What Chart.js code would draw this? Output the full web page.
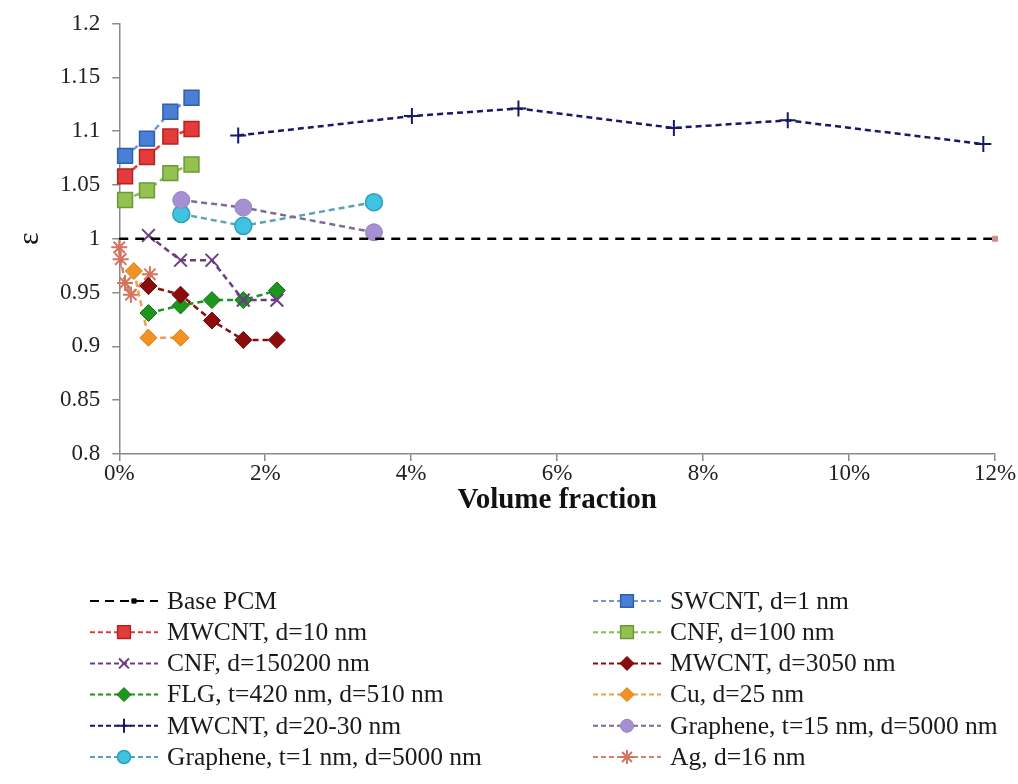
<!DOCTYPE html>
<html>
<head>
<meta charset="utf-8">
<script src="https://cdn.jsdelivr.net/npm/chart.js"></script>
<style>
  html, body { margin: 0; padding: 0; background: #ffffff; }
  #wrap { position: relative; width: 1018px; height: 784px; }
</style>
</head>
<body>
<div id="wrap"><canvas id="c"></canvas></div>
<script>
// ---- Tick labels ----
const xTickValues = [0, 2, 4, 6, 8, 10, 12];
const xTickLabels = ['0%', '2%', '4%', '6%', '8%', '10%', '12%'];
const yTickValues = [0.8, 0.85, 0.9, 0.95, 1.0, 1.05, 1.1, 1.15, 1.2];
const yTickLabels = ['0.8', '0.85', '0.9', '0.95', '1', '1.05', '1.1', '1.15', '1.2'];

// ---- Series names ----
const seriesNames = [
  'Base PCM', 'SWCNT, d=1 nm',
  'MWCNT, d=10 nm', 'CNF, d=100 nm',
  'CNF, d=150200 nm', 'MWCNT, d=3050 nm',
  'FLG, t=420 nm, d=510 nm', 'Cu, d=25 nm',
  'MWCNT, d=20-30 nm', 'Graphene, t=15 nm, d=5000 nm',
  'Graphene, t=1 nm, d=5000 nm', 'Ag, d=16 nm'
];

// ---- Series values (x in %, y = epsilon) ----
const baseX = [0, 12];
const baseY = [1.0, 1.0];
const swcntX = [0.08, 0.38, 0.70, 0.99];
const swcntY = [1.077, 1.093, 1.118, 1.131];
const mwcnt10X = [0.08, 0.38, 0.70, 0.99];
const mwcnt10Y = [1.058, 1.076, 1.095, 1.102];
const cnf100X = [0.08, 0.38, 0.70, 0.99];
const cnf100Y = [1.036, 1.045, 1.061, 1.069];
const cnf150X = [0.40, 0.84, 1.27, 1.70, 2.16];
const cnf150Y = [1.003, 0.980, 0.980, 0.943, 0.943];
const mwcnt3050X = [0.40, 0.84, 1.27, 1.70, 2.16];
const mwcnt3050Y = [0.956, 0.948, 0.924, 0.906, 0.906];
const flgX = [0.40, 0.84, 1.27, 1.70, 2.16];
const flgY = [0.931, 0.938, 0.943, 0.943, 0.952];
const cuX = [0.20, 0.40, 0.84];
const cuY = [0.970, 0.908, 0.908];
const mwcnt2030X = [1.63, 4.01, 5.47, 7.60, 9.16, 11.84];
const mwcnt2030Y = [1.096, 1.114, 1.121, 1.103, 1.110, 1.088];
const gr15X = [0.85, 1.70, 3.49];
const gr15Y = [1.036, 1.029, 1.006];
const gr1X = [0.85, 1.70, 3.49];
const gr1Y = [1.023, 1.012, 1.034];
const agX = [0.00, 0.02, 0.08, 0.16, 0.42];
const agY = [0.992, 0.981, 0.959, 0.948, 0.967];

const pts = (xs, ys) => xs.map((x, i) => ({ x: x, y: ys[i] }));

const DASH = [6, 4];
function series(label, xs, ys, lineColor, style, fill, border, radius, bw) {
  return {
    label: label,
    data: pts(xs, ys),
    borderColor: lineColor,
    borderWidth: 2.5,
    borderDash: DASH,
    pointStyle: style,
    pointRadius: radius,
    pointHoverRadius: radius,
    pointBackgroundColor: fill,
    pointBorderColor: border,
    pointBorderWidth: bw,
    tension: 0,
    fill: false,
    clip: false
  };
}

const datasets = [
  {
    label: seriesNames[0],
    data: pts(baseX, baseY),
    borderColor: '#000000',
    borderWidth: 2.5,
    borderDash: [9, 7],
    pointStyle: 'rect',
    pointRadius: [0, 3.5],
    pointBackgroundColor: '#c98f8f',
    pointBorderColor: '#c98f8f',
    pointBorderWidth: 1,
    fill: false,
    clip: false
  },
  series(seriesNames[1], swcntX, swcntY, '#6f98d6', 'rect', '#4a7fd6', '#2f5fae', 10.5, 1.5),
  series(seriesNames[2], mwcnt10X, mwcnt10Y, '#e23c3c', 'rect', '#e63b3b', '#b52222', 10.5, 1.5),
  series(seriesNames[3], cnf100X, cnf100Y, '#8cba4e', 'rect', '#93c152', '#6a9a32', 10.5, 1.5),
  series(seriesNames[4], cnf150X, cnf150Y, '#6b3c84', 'crossRot', '#6b3c84', '#6b3c84', 9, 2),
  series(seriesNames[5], mwcnt3050X, mwcnt3050Y, '#8a0c0c', 'rectRot', '#8a0c0c', '#6e0000', 8.5, 1),
  series(seriesNames[6], flgX, flgY, '#1c931c', 'rectRot', '#1c961c', '#137013', 8.5, 1),
  series(seriesNames[7], cuX, cuY, '#f0a050', 'rectRot', '#f39224', '#d87a10', 8.5, 1),
  series(seriesNames[8], mwcnt2030X, mwcnt2030Y, '#18186a', 'cross', '#18186a', '#18186a', 8, 2),
  series(seriesNames[9], gr15X, gr15Y, '#7c6c9c', 'circle', '#a68fd2', '#9683c4', 8.5, 1),
  series(seriesNames[10], gr1X, gr1Y, '#5aa2ba', 'circle', '#3fc3e0', '#2aa0c0', 8.5, 1.5),
  series(seriesNames[11], agX, agY, '#d4806a', 'star', '#d4735f', '#d4735f', 8, 2)
];

// ---- marker drawing for custom legend ----
function drawMarker(ctx, style, x, y, r, fill, stroke, bw) {
  ctx.save();
  ctx.setLineDash([]);
  ctx.fillStyle = fill;
  ctx.strokeStyle = stroke;
  ctx.lineWidth = bw;
  ctx.beginPath();
  if (style === 'rect') {
    const s = r * Math.SQRT1_2;
    ctx.rect(x - s, y - s, 2 * s, 2 * s);
    ctx.fill(); ctx.stroke();
  } else if (style === 'rectRot') {
    ctx.moveTo(x, y - r); ctx.lineTo(x + r, y); ctx.lineTo(x, y + r); ctx.lineTo(x - r, y); ctx.closePath();
    ctx.fill(); ctx.stroke();
  } else if (style === 'circle') {
    ctx.arc(x, y, r, 0, Math.PI * 2);
    ctx.fill(); ctx.stroke();
  } else if (style === 'cross') {
    ctx.moveTo(x, y - r); ctx.lineTo(x, y + r); ctx.moveTo(x - r, y); ctx.lineTo(x + r, y);
    ctx.stroke();
  } else if (style === 'crossRot') {
    const s = r * Math.SQRT1_2;
    ctx.moveTo(x - s, y - s); ctx.lineTo(x + s, y + s); ctx.moveTo(x + s, y - s); ctx.lineTo(x - s, y + s);
    ctx.stroke();
  } else if (style === 'star') {
    const s = r * Math.SQRT1_2;
    ctx.moveTo(x, y - r); ctx.lineTo(x, y + r); ctx.moveTo(x - r, y); ctx.lineTo(x + r, y);
    ctx.moveTo(x - s, y - s); ctx.lineTo(x + s, y + s); ctx.moveTo(x + s, y - s); ctx.lineTo(x - s, y + s);
    ctx.stroke();
  }
  ctx.restore();
}

const legendPlugin = {
  id: 'twoColLegend',
  afterDraw(chart) {
    const ctx = chart.ctx;
    const colX = [90, 593];
    const rowY0 = 601, rowH = 31.2;
    chart.data.datasets.forEach((ds, i) => {
      const col = i % 2, row = Math.floor(i / 2);
      const x0 = colX[col], y = rowY0 + row * rowH;
      ctx.save();
      ctx.strokeStyle = ds.borderColor;
      ctx.lineWidth = 2;
      ctx.setLineDash(i === 0 ? [9, 6] : [5, 3]);
      ctx.beginPath();
      ctx.moveTo(x0, y); ctx.lineTo(x0 + 68, y);
      ctx.stroke();
      ctx.restore();
      if (i === 0) {
        drawMarker(ctx, 'rect', x0 + 44, y, 3, '#000', '#000', 1);
      } else {
        const r = ds.pointStyle === 'rect' ? 9 : (ds.pointStyle === 'circle' ? 6.5 : 7);
        drawMarker(ctx, ds.pointStyle, x0 + 34, y, r, ds.pointBackgroundColor, ds.pointBorderColor, ds.pointBorderWidth);
      }
      ctx.save();
      ctx.fillStyle = '#1a1a1a';
      ctx.font = '25.5px "Liberation Serif", "Times New Roman", serif';
      ctx.textBaseline = 'middle';
      ctx.textAlign = 'left';
      ctx.fillText(ds.label, x0 + 77, y + 1);
      ctx.restore();
    });
  }
};

new Chart(document.getElementById('c'), {
  type: 'line',
  data: { datasets: datasets },
  plugins: [legendPlugin],
  options: {
    responsive: true,
    maintainAspectRatio: false,
    animation: false,
    events: [],
    layout: { padding: { left: 4, right: 23, top: 7, bottom: 265 } },
    plugins: {
      legend: { display: false },
      tooltip: { enabled: false }
    },
    scales: {
      x: {
        type: 'linear',
        min: 0, max: 12,
        afterBuildTicks: (axis) => { axis.ticks = xTickValues.map(v => ({ value: v })); },
        ticks: {
          callback: (v) => { const i = xTickValues.indexOf(v); return i >= 0 ? xTickLabels[i] : ''; },
          color: '#222',
          font: { family: '"Liberation Serif", "Times New Roman", serif', size: 23, lineHeight: 1 },
          padding: 1,
          maxRotation: 0,
          autoSkip: false
        },
        grid: { display: true, drawOnChartArea: false, drawTicks: true, tickLength: 7, color: '#8a8a8a', lineWidth: 1.5 },
        border: { display: true, color: '#8a8a8a', width: 1.5 },
        title: {
          display: true,
          text: 'Volume fraction',
          color: '#111',
          font: { family: '"Liberation Serif", "Times New Roman", serif', size: 29, weight: 'bold', lineHeight: 1 },
          padding: { top: 0, bottom: 4 }
        }
      },
      y: {
        type: 'linear',
        min: 0.8, max: 1.2,
        afterBuildTicks: (axis) => { axis.ticks = yTickValues.map(v => ({ value: v })); },
        ticks: {
          callback: (v) => { const i = yTickValues.findIndex(t => Math.abs(t - v) < 1e-9); return i >= 0 ? yTickLabels[i] : ''; },
          color: '#222',
          font: { family: '"Liberation Serif", "Times New Roman", serif', size: 23, lineHeight: 1 },
          padding: 12,
          autoSkip: false
        },
        grid: { display: true, drawOnChartArea: false, drawTicks: true, tickLength: 7, color: '#8a8a8a', lineWidth: 1.5 },
        border: { display: true, color: '#8a8a8a', width: 1.5 },
        title: {
          display: true,
          text: 'ε',
          color: '#111',
          font: { family: '"Liberation Serif", "Times New Roman", serif', size: 30, lineHeight: 1.2 },
          padding: { top: 8, bottom: 0 }
        }
      }
    }
  }
});
</script>
</body>
</html>
